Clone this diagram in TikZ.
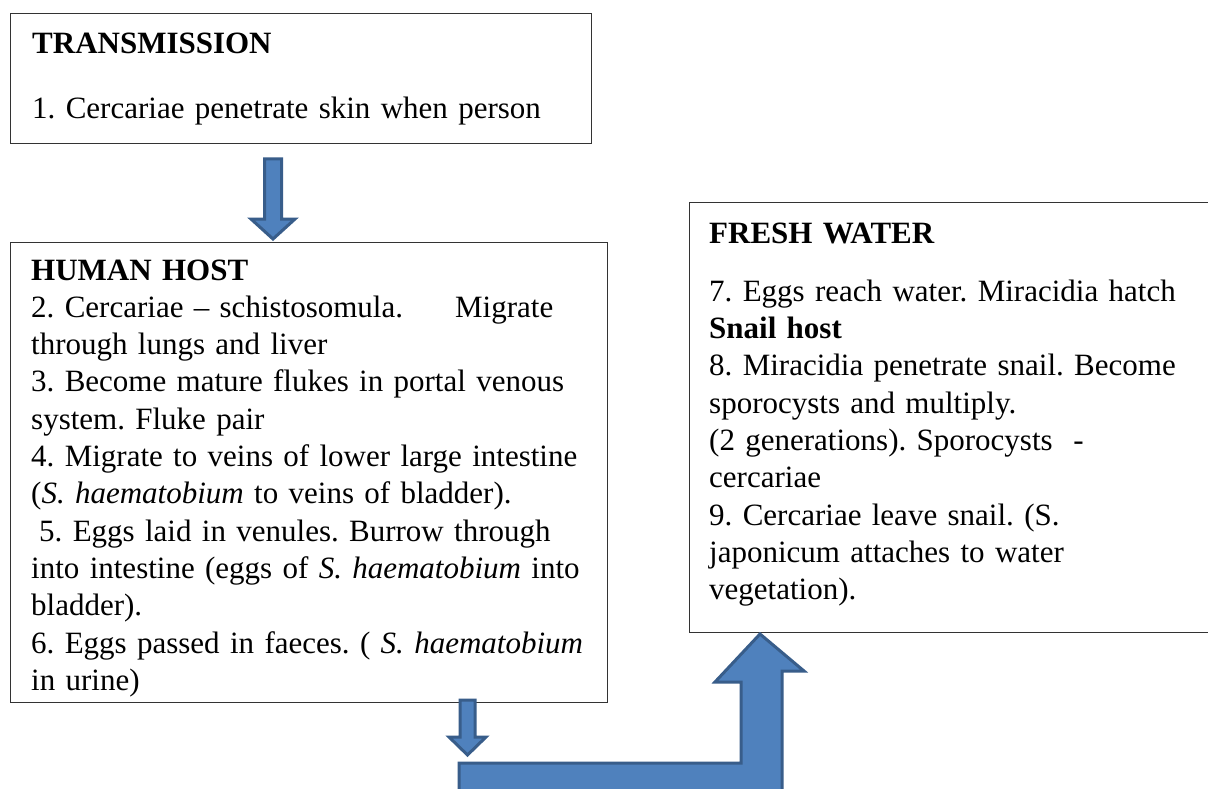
\documentclass[tikz,border=0pt]{standalone}
\usepackage{fontspec}
\setmainfont{Liberation Serif}
\definecolor{arrfill}{HTML}{4F81BD}
\definecolor{arrline}{HTML}{385D8A}
\begin{document}
\frenchspacing
\begin{tikzpicture}[x=1pt,y=-1pt,
  boxst/.style={draw=black!80, line width=1.3pt, fill=white, rectangle, inner sep=0pt, anchor=north west},
  txt/.style={font=\fontsize{31}{37.3}\selectfont\frenchspacing, text width=640pt, align=left, inner sep=0pt, anchor=base west},
  blockarrow/.style={fill=arrfill, draw=arrline, line width=3pt, line join=miter}]
\useasboundingbox (0,0) rectangle (1208,789);
\fill[white] (0,0) rectangle (1208,789);

% boxes
\node[boxst, minimum width=581pt, minimum height=130pt] (b1) at (10,13) {};
\node[boxst, minimum width=597pt, minimum height=460pt] (b2) at (10,242) {};
\node[boxst, minimum width=530pt, minimum height=430pt] (b3) at (689,202) {};

% texts
\node[txt] (t1) at (32,54) {\textbf{TRANSMISSION}\\[27pt]
1. Cercariae penetrate skin when person};

\node[txt] (t2) at (31,280) {\textbf{HUMAN HOST}\\
2. Cercariae – schistosomula.\hspace{52pt}Migrate\\
through lungs and liver\\
3. Become mature flukes in portal venous\\
system. Fluke pair\\
4. Migrate to veins of lower large intestine\\
(\textit{S. haematobium} to veins of bladder).\\
\hspace*{8pt}5. Eggs laid in venules. Burrow through\\
into intestine (eggs of \textit{S. haematobium} into\\
bladder).\\
6. Eggs passed in faeces. ( \textit{S. haematobium}\\
in urine)};

\node[txt] (t3) at (709,243) {\textbf{FRESH WATER}\\[21pt]
7. Eggs reach water. Miracidia hatch\\
\textbf{Snail host}\\
8. Miracidia penetrate snail. Become\\
sporocysts and multiply.\\
(2 generations). Sporocysts\ \ -\\
cercariae\\
9. Cercariae leave snail. (S.\\
japonicum attaches to water\\
vegetation).};

% connectors
\coordinate (a1tip) at (273,239);
\coordinate (a2tip) at (467.5,755);
\coordinate (a3tip) at (760,634);

\draw[blockarrow] (a1tip) -- ++(-22,-20) -- ++(13.5,0) -- ++(0,-60) -- ++(17,0) -- ++(0,60) -- ++(13.5,0) -- cycle;

\draw[blockarrow] (a3tip) -- ++(44,37) -- ++(-22,0) -- ++(0,140) -- ++(-323,0) -- ++(0,-48) -- ++(282,0) -- ++(0,-81) -- ++(-26,0) -- cycle;

\draw[blockarrow] (a2tip) -- ++(-18.5,-18) -- ++(11,0) -- ++(0,-37) -- ++(15,0) -- ++(0,37) -- ++(11,0) -- cycle;
\end{tikzpicture}
\end{document}
